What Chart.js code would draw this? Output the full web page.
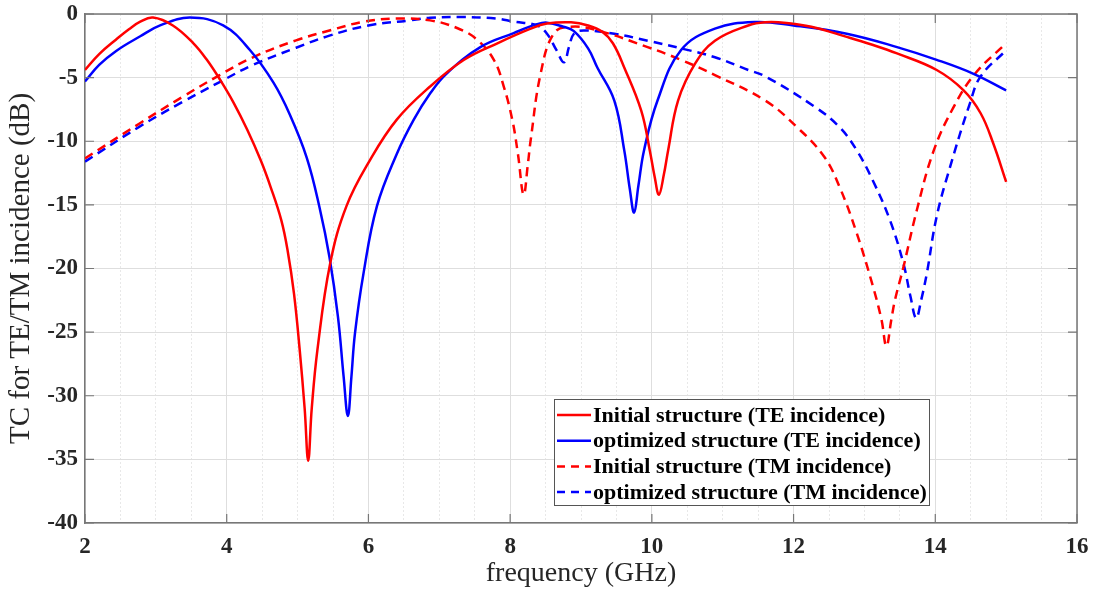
<!DOCTYPE html>
<html>
<head>
<meta charset="utf-8">
<script src="https://cdn.jsdelivr.net/npm/chart.js@4.4.1/dist/chart.umd.min.js"></script>
<style>
  html, body { margin: 0; padding: 0; background: #fff; }
  #wrap { width: 1096px; height: 592px; }
</style>
</head>
<body>
<div id="wrap"><canvas id="tcChart" width="1096" height="592"></canvas></div>
<script>
// frequency (GHz) / TC (dB)
const teInitX = [2.0, 2.2, 2.44, 2.62, 2.78, 2.96, 3.24, 3.53, 3.72, 3.91, 4.1, 4.29, 4.48, 4.62, 4.77, 4.86, 4.95, 5.03, 5.1, 5.15, 5.2, 5.28, 5.46, 5.69, 6.02, 6.4, 6.87, 7.35, 7.82, 8.29, 8.52, 8.86, 9.1, 9.3, 9.45, 9.61, 9.85, 9.97, 10.04, 10.1, 10.17, 10.23, 10.37, 10.61, 10.89, 11.36, 11.6, 11.9, 12.25, 12.75, 13.1, 13.46, 14.02, 14.4, 14.64, 14.82, 15.0];
const teInitY = [-4.4, -3.15, -2.0, -1.2, -0.6, -0.28, -0.9, -2.3, -3.6, -5.2, -7.0, -9.1, -11.5, -13.6, -16.2, -18.6, -22.0, -26.4, -31.0, -35.1, -31.0, -26.4, -19.6, -15.1, -11.5, -8.3, -5.7, -3.6, -2.3, -1.15, -0.75, -0.65, -0.9, -1.4, -2.3, -4.2, -7.6, -10.7, -12.8, -14.2, -12.6, -10.7, -6.8, -3.9, -2.1, -0.9, -0.65, -0.7, -1.0, -1.8, -2.4, -3.1, -4.4, -6.0, -7.8, -10.2, -13.2];

const teOptX = [2.0, 2.2, 2.44, 2.78, 3.06, 3.48, 3.95, 4.33, 4.66, 4.89, 5.13, 5.31, 5.45, 5.57, 5.65, 5.71, 5.76, 5.81, 5.93, 6.12, 6.4, 6.64, 6.87, 7.1, 7.58, 8.05, 8.38, 8.52, 8.75, 8.9, 9.1, 9.23, 9.47, 9.61, 9.69, 9.75, 9.81, 9.89, 10.08, 10.41, 10.89, 11.46, 12.0, 12.75, 13.46, 14.02, 14.54, 15.0];
const teOptY = [-5.3, -4.0, -2.9, -1.75, -0.9, -0.28, -0.9, -2.85, -5.4, -7.9, -11.3, -15.2, -19.1, -23.8, -28.5, -31.6, -28.5, -25.1, -20.4, -15.1, -11.0, -8.3, -6.25, -4.7, -2.6, -1.5, -0.8, -0.68, -1.0, -1.35, -2.7, -4.2, -6.8, -10.7, -13.8, -15.6, -13.5, -10.7, -6.8, -2.85, -1.15, -0.63, -0.9, -1.55, -2.6, -3.6, -4.7, -6.0];

const tmInitX = [2.0, 2.77, 3.38, 3.9, 4.37, 4.98, 5.45, 5.94, 6.4, 6.87, 7.25, 7.53, 7.77, 7.91, 8.03, 8.11, 8.19, 8.25, 8.29, 8.43, 8.62, 8.86, 9.24, 9.94, 10.41, 10.89, 11.6, 12.05, 12.43, 12.65, 12.89, 13.12, 13.24, 13.31, 13.38, 13.43, 13.55, 13.74, 13.98, 14.26, 14.56, 15.0];
const tmInitY = [-11.35, -8.6, -6.5, -4.8, -3.4, -2.07, -1.3, -0.6, -0.36, -0.5, -1.1, -2.0, -3.6, -5.7, -8.3, -11.0, -14.2, -11.8, -9.9, -4.7, -1.5, -1.0, -1.3, -2.6, -3.6, -4.8, -6.8, -8.9, -11.2, -13.6, -17.2, -21.4, -24.0, -26.1, -24.0, -22.5, -19.9, -15.4, -10.7, -7.3, -4.7, -2.3];

const tmOptX = [2.0, 2.77, 3.38, 3.9, 4.37, 4.98, 5.45, 6.0, 6.59, 6.87, 7.35, 7.8, 8.05, 8.38, 8.52, 8.65, 8.76, 8.83, 8.9, 9.04, 9.47, 9.94, 10.41, 10.89, 11.36, 11.6, 12.3, 12.65, 12.89, 13.12, 13.36, 13.55, 13.65, 13.73, 13.8, 13.88, 14.02, 14.21, 14.49, 14.64, 15.0];
const tmOptY = [-11.6, -8.85, -6.9, -5.35, -4.0, -2.65, -1.7, -0.9, -0.5, -0.3, -0.24, -0.36, -0.6, -0.9, -1.55, -2.8, -3.8, -2.6, -1.55, -1.3, -1.55, -2.1, -2.7, -3.4, -4.4, -4.9, -7.3, -8.9, -10.7, -13.1, -16.2, -19.6, -22.2, -23.9, -22.5, -20.4, -15.9, -12.0, -7.0, -4.9, -2.85];

const seriesLabels = [
    'Initial structure (TE incidence)',
    'optimized structure (TE incidence)',
    'Initial structure (TM incidence)',
    'optimized structure (TM incidence)'
];
const xTickLabels = [2, 4, 6, 8, 10, 12, 14, 16];
const yTickLabels = [0, -5, -10, -15, -20, -25, -30, -35, -40];

const RED = 'rgb(255, 0, 0)';
const BLUE = 'rgb(0, 0, 255)';
const DASH = [9, 6];
const SERIF = "'Liberation Serif', 'Times New Roman', serif";
const AXIS_COLOR = '#777';
const TEXT_COLOR = '#262626';

function toPoints(xs, ys) {
    return xs.map((x, i) => ({ x: x, y: ys[i] }));
}

function makeSet(label, xs, ys, color, dashed) {
    return {
        label: label,
        data: toPoints(xs, ys),
        borderColor: color,
        backgroundColor: color,
        borderWidth: 2.5,
        borderDash: dashed ? DASH : [],
        pointRadius: 0,
        tension: 0.4,
        fill: false
    };
}

// box on the top/right edges, inward ticks (matlab style) and the legend box
const framePlugin = {
    id: 'frame',
    afterDatasetsDraw(chart) {
        const { ctx, chartArea: a, scales } = chart;
        ctx.save();
        ctx.strokeStyle = AXIS_COLOR;
        ctx.lineWidth = 1.5;
        ctx.beginPath();
        ctx.moveTo(a.left, a.top);
        ctx.lineTo(a.right, a.top);
        ctx.lineTo(a.right, a.bottom);
        ctx.stroke();

        const tl = 9;
        ctx.lineWidth = 1.2;
        ctx.beginPath();
        xTickLabels.forEach(v => {
            const px = scales.x.getPixelForValue(v);
            ctx.moveTo(px, a.bottom); ctx.lineTo(px, a.bottom - tl);
            ctx.moveTo(px, a.top); ctx.lineTo(px, a.top + tl);
        });
        yTickLabels.forEach(v => {
            const py = scales.y.getPixelForValue(v);
            ctx.moveTo(a.left, py); ctx.lineTo(a.left + tl, py);
            ctx.moveTo(a.right, py); ctx.lineTo(a.right - tl, py);
        });
        ctx.stroke();
        ctx.restore();
    },
    afterDraw(chart) {
        const { ctx, chartArea: a } = chart;
        const w = 375, h = 106;
        const left = a.right - 148 - w;
        const top = a.bottom - 18 - h;
        ctx.save();
        ctx.fillStyle = '#fff';
        ctx.fillRect(left, top, w, h);
        ctx.strokeStyle = '#555';
        ctx.lineWidth = 1;
        ctx.strokeRect(left + 0.5, top + 0.5, w, h);

        ctx.font = 'bold 22px ' + SERIF;
        ctx.textBaseline = 'middle';
        ctx.textAlign = 'left';
        chart.data.datasets.forEach((ds, i) => {
            const cy = top + 16 + i * 25.7;
            ctx.strokeStyle = ds.borderColor;
            ctx.lineWidth = 2.5;
            ctx.setLineDash(ds.borderDash.length ? [8, 6] : []);
            ctx.beginPath();
            ctx.moveTo(left + 3, cy);
            ctx.lineTo(left + 37, cy);
            ctx.stroke();
            ctx.setLineDash([]);
            ctx.fillStyle = '#000';
            ctx.fillText(ds.label, left + 39, cy + 1);
        });
        ctx.restore();
    }
};

const tcChart = new Chart(document.getElementById('tcChart'), {
    type: 'line',
    data: {
        datasets: [
            makeSet(seriesLabels[0], teInitX, teInitY, RED, false),
            makeSet(seriesLabels[1], teOptX, teOptY, BLUE, false),
            makeSet(seriesLabels[2], tmInitX, tmInitY, RED, true),
            makeSet(seriesLabels[3], tmOptX, tmOptY, BLUE, true)
        ]
    },
    options: {
        responsive: false,
        animation: false,
        layout: { padding: { top: 14, right: 19, left: 0, bottom: 0 } },
        plugins: {
            legend: { display: false },
            tooltip: { enabled: false }
        },
        scales: {
            x: {
                type: 'linear',
                min: 2,
                max: 16,
                afterFit: s => { s.height = 69; s.paddingLeft = 0; s.paddingRight = 0; },
                ticks: {
                    stepSize: 0.5,
                    autoSkip: false,
                    maxRotation: 0,
                    padding: 10,
                    color: TEXT_COLOR,
                    font: { family: SERIF, size: 23, weight: 'bold' },
                    callback: v => (xTickLabels.includes(v) ? String(v) : '')
                },
                grid: {
                    drawTicks: false,
                    color: c => (c.tick && xTickLabels.includes(c.tick.value) ? '#dedede' : '#e8e8e8'),
                    lineWidth: 1
                },
                border: {
                    color: AXIS_COLOR,
                    width: 1.5,
                    dash: c => (c.tick && !xTickLabels.includes(c.tick.value) ? [2, 2] : [])
                },
                title: {
                    display: true,
                    text: 'frequency (GHz)',
                    color: TEXT_COLOR,
                    font: { family: SERIF, size: 28 },
                    padding: { top: 0, bottom: 2 }
                }
            },
            y: {
                min: -40,
                max: 0,
                afterFit: s => { s.width = 85; s.paddingTop = 0; s.paddingBottom = 0; },
                ticks: {
                    stepSize: 5,
                    padding: 7,
                    color: TEXT_COLOR,
                    font: { family: SERIF, size: 23, weight: 'bold' },
                    callback: v => String(v)
                },
                grid: {
                    drawTicks: false,
                    color: '#dedede',
                    lineWidth: 1
                },
                border: { color: AXIS_COLOR, width: 1.5 },
                title: {
                    display: true,
                    text: 'TC for TE/TM incidence (dB)',
                    color: TEXT_COLOR,
                    font: { family: SERIF, size: 29 },
                    padding: { top: 4, bottom: 0 }
                }
            }
        }
    },
    plugins: [framePlugin]
});
</script>
</body>
</html>
